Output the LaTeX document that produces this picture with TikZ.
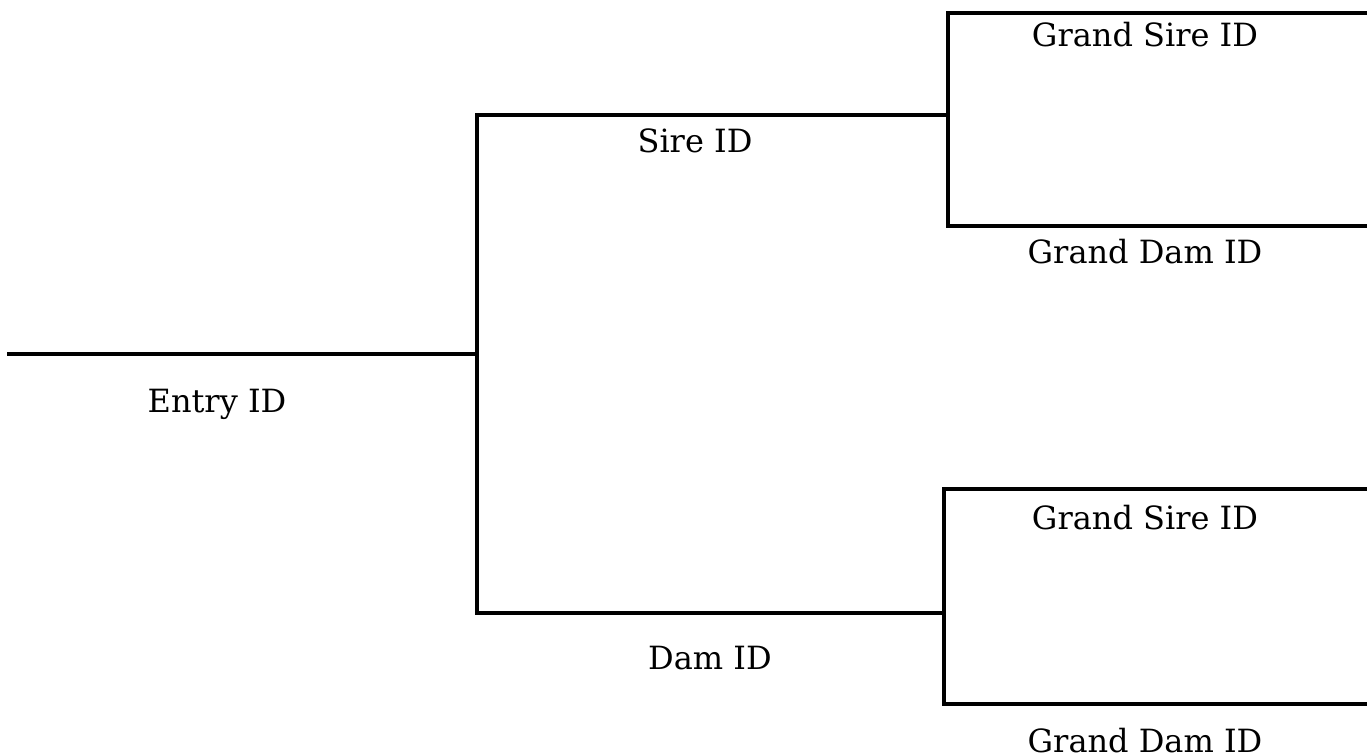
\documentclass[tikz,border=0pt]{standalone}
\usepackage{fontspec}
\setmainfont{DejaVu Serif}
\begin{document}
\begin{tikzpicture}[x=1pt,y=-1pt,
  treeline/.style={line width=4pt,line cap=rect,black},
  idlabel/.style={anchor=base,inner sep=0pt,font=\fontsize{32}{38}\selectfont}]
\useasboundingbox (0,0) rectangle (1367,755);
% coordinates
\coordinate (e0) at (9,354);
\coordinate (e1) at (477,354);
\coordinate (s0) at (477,115);
\coordinate (d0) at (477,613);
\coordinate (s1) at (948,115);
\coordinate (d1) at (944,613);
\coordinate (gs1a) at (948,13);
\coordinate (gs1b) at (1367,13);
\coordinate (gd1a) at (948,226);
\coordinate (gd1b) at (1367,226);
\coordinate (gs2a) at (944,489);
\coordinate (gs2b) at (1367,489);
\coordinate (gd2a) at (944,704);
\coordinate (gd2b) at (1367,704);
% lines
\draw[treeline] (e0) -- (e1);
\draw[treeline] (s0) -- (d0);
\draw[treeline] (s0) -- (s1);
\draw[treeline] (d0) -- (d1);
\draw[treeline] (gs1a) -- (gd1a);
\draw[treeline] (gs1a) -- (gs1b);
\draw[treeline] (gd1a) -- (gd1b);
\draw[treeline] (gs2a) -- (gd2a);
\draw[treeline] (gs2a) -- (gs2b);
\draw[treeline] (gd2a) -- (gd2b);
% labels
\node[idlabel] (entry) at (217,412) {Entry ID};
\node[idlabel] (sire) at (695,152) {Sire ID};
\node[idlabel] (dam) at (710,669) {Dam ID};
\node[idlabel] (gs1) at (1145,46) {Grand Sire ID};
\node[idlabel] (gd1) at (1145,263) {Grand Dam ID};
\node[idlabel] (gs2) at (1145,529) {Grand Sire ID};
\node[idlabel] (gd2) at (1145,752) {Grand Dam ID};
\end{tikzpicture}
\end{document}
